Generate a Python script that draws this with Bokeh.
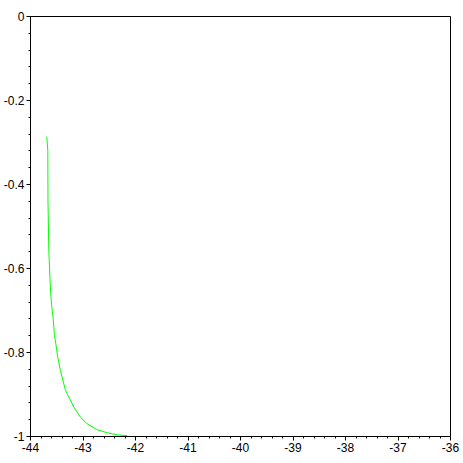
from bokeh.plotting import figure
from bokeh.models import Range1d, FixedTicker
from bokeh.embed import file_html
from bokeh.resources import INLINE

# curve values
xs = [-43.690, -43.670, -43.667, -43.651, -43.644, -43.625, -43.606, -43.587,
      -43.568, -43.543, -43.518, -43.480, -43.429, -43.339, -43.301, -43.175,
      -43.048, -42.920, -42.730, -42.539, -42.349, -42.158]
ys = [-0.286, -0.319, -0.438, -0.557, -0.579, -0.636, -0.676, -0.700,
      -0.719, -0.760, -0.779, -0.812, -0.843, -0.888, -0.898, -0.930,
      -0.954, -0.970, -0.984, -0.991, -0.996, -0.998]

x_ticks = [-44, -43, -42, -41, -40, -39, -38, -37, -36]
x_labels = ["-44", "-43", "-42", "-41", "-40", "-39", "-38", "-37", "-36"]
y_ticks = [-1.0, -0.8, -0.6, -0.4, -0.2, 0.0]
y_labels = ["-1", "-0.8", "-0.6", "-0.4", "-0.2", "0"]
x_minor = [round(-44 + 0.2 * i, 2) for i in range(41)]
y_minor = [round(-1 + 0.04 * i, 2) for i in range(26)]

p = figure(frame_width=420, frame_height=420, output_backend="svg", toolbar_location=None,
           x_range=Range1d(-44, -36), y_range=Range1d(-1, 0),
           min_border_left=30, min_border_right=10, min_border_top=16, min_border_bottom=22)
p.background_fill_color = "white"
p.border_fill_color = "white"
p.outline_line_color = "black"
p.outline_line_width = 1
p.outline_line_alpha = 1.0
p.grid.visible = False

p.line(xs, ys, line_color="#00FF00", line_width=1)

p.xaxis.ticker = FixedTicker(ticks=x_ticks, minor_ticks=x_minor)
p.yaxis.ticker = FixedTicker(ticks=y_ticks, minor_ticks=y_minor)
p.xaxis.major_label_overrides = {t: l for t, l in zip(x_ticks, x_labels)}
p.yaxis.major_label_overrides = {t: l for t, l in zip(y_ticks, y_labels)}

for ax in (p.xaxis, p.yaxis):
    ax.axis_line_color = "black"
    ax.axis_line_width = 1
    ax.major_tick_line_color = "black"
    ax.minor_tick_line_color = "black"
    ax.major_tick_in = 0
    ax.major_tick_out = 4
    ax.minor_tick_in = 0
    ax.minor_tick_out = 2
    ax.major_label_text_font = "Liberation Sans"
    ax.major_label_text_font_size = "12px"
    ax.major_label_text_color = "black"
    ax.major_label_standoff = 2

open("out.html", "w").write(file_html(p, INLINE))
